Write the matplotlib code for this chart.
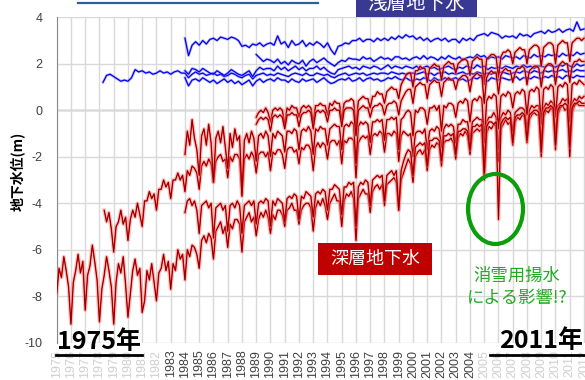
import numpy as np
import matplotlib
matplotlib.use("Agg")
import matplotlib.pyplot as plt
from matplotlib.patches import Ellipse, Rectangle
from matplotlib.lines import Line2D

plt.rcParams['font.family'] = ['Liberation Sans', 'Noto Sans CJK JP', 'DejaVu Sans']
JP = ['Noto Sans CJK JP', 'DejaVu Sans']

# ---- deep wells (bimonthly readings, m) ----
deep1_start = 1975.0
deep1 = [
    -7.9, -6.8, -7.2, -6.3, -6.9, -7.6,
    -9.2, -7.4, -6.9, -6.2, -7.0, -6.5,
    -8.6, -7.1, -6.7, -5.8, -6.5, -7.3,
    -9.1, -7.7, -7.1, -6.3, -6.9, -7.6,
    -9.2, -7.4, -6.6, -7.0, -6.3, -7.5,
    -8.9, -7.9, -6.9, -6.4, -7.1, -6.8,
    -8.7, -8.2, -6.9, -7.3, -6.6, -7.4,
    -8.2, -7.0, -6.8, -6.2, -6.9, -6.5,
    -7.7, -6.6, -6.9, -6.0, -6.4, -6.2,
    -7.3, -6.0, -6.3, -5.8, -5.9, -6.2,
    -6.8, -5.6, -5.4, -5.7, -5.3, -5.5,
    -6.4, -5.2, -5.0, -4.8, -5.3, -5.0,
    -5.9, -4.9, -5.1, -4.7, -4.7, -4.9,
    -6.1, -4.8, -4.6, -4.4, -4.8, -4.6,
    -5.4, -4.7, -4.4, -4.6, -4.3, -4.6,
    -5.3, -4.5, -4.7, -4.3, -4.3, -4.5,
    -5.0, -4.3, -4.2, -4.0, -4.3, -4.3,
    -4.9, -4.3, -4.1, -4.0, -4.0, -4.2,
    -5.2, -4.2, -3.9, -4.1, -3.8, -4.1,
    -4.7, -4.0, -3.8, -3.6, -3.9, -3.9,
    -5.0, -3.9, -3.6, -3.7, -3.5, -3.8,
    -5.6, -3.8, -3.6, -3.4, -3.6, -3.6,
    -4.4, -3.5, -3.3, -3.2, -3.4, -3.2,
    -4.1, -3.2, -3.1, -3.0, -2.9, -3.1,
    -4.3, -3.0, -2.7, -2.4, -2.1, -2.3,
    -3.1, -2.0, -1.8, -1.7, -1.9, -1.7,
    -2.6, -1.7, -1.5, -1.6, -1.4, -1.5,
    -2.4, -1.4, -1.3, -1.3, -1.2, -1.4,
    -2.1, -1.2, -1.0, -1.1, -0.9, -1.1,
    -1.9, -1.0, -0.9, -0.8, -0.9, -0.8,
    -3.0, -1.0, -0.7, -0.8, -0.6, -0.7,
    -2.2, -0.8, -0.6, -0.4, -0.6, -0.5,
    -1.5, -0.5, -0.3, -0.4, -0.2, -0.3,
    -1.4, -0.4, -0.2, -0.1, -0.2, -0.2,
    -2.0, -0.3, 0.0, -0.1, 0.1, 0.0,
    -1.7, -0.2, 0.1, 0.2, 0.0, 0.1,
    -2.0, -0.1, 0.2, 0.3, 0.2, 0.2,
    0.2,
]

deep2_start = 1978 + 2 / 6
deep2 = [
    -4.3, -4.8, -4.4, -5.1,
    -6.1, -5.0, -4.8, -4.3, -4.9, -4.6,
    -5.6, -4.7, -4.3, -4.6, -4.0, -4.5,
    -5.0, -3.9, -3.9, -3.5, -3.8, -3.6,
    -4.3, -3.4, -3.4, -3.0, -3.3, -3.1,
    -3.8, -3.0, -3.0, -2.7, -3.0, -2.8,
    -3.5, -2.6, -2.8, -2.4, -2.5, -2.7,
    -3.4, -2.4, -2.2, -2.4, -2.1, -2.3,
    -3.1, -2.2, -2.0, -1.9, -2.2, -2.1,
    -2.9, -2.0, -2.2, -1.9, -1.9, -2.1,
    -3.6, -2.1, -1.9, -2.1, -1.8, -2.0,
    -2.7, -1.9, -1.8, -1.8, -2.0, -1.8,
    -2.6, -1.8, -1.9, -1.7, -1.7, -1.9,
    -2.5, -1.7, -1.6, -1.6, -1.8, -1.7,
    -2.3, -1.6, -1.7, -1.5, -1.5, -1.7,
    -2.6, -1.6, -1.4, -1.6, -1.4, -1.5,
    -2.1, -1.4, -1.3, -1.3, -1.5, -1.3,
    -2.3, -1.3, -1.4, -1.2, -1.2, -1.3,
    -2.9, -1.4, -1.2, -1.1, -1.2, -1.1,
    -1.9, -1.1, -1.0, -1.1, -0.9, -1.0,
    -1.8, -1.0, -1.0, -1.1, -0.9, -1.0,
    -2.2, -1.1, -0.9, -1.0, -1.1, -1.0,
    -2.0, -1.0, -0.9, -0.9, -1.0, -0.8,
    -1.7, -0.9, -0.8, -0.9, -0.7, -0.8,
    -1.6, -0.8, -0.6, -0.7, -0.6, -0.7,
    -1.4, -0.6, -0.6, -0.4, -0.5, -0.5,
    -1.3, -0.5, -0.4, -0.3, -0.4, -0.4,
    -2.3, -0.5, -0.3, -0.3, -0.1, -0.3,
    -1.7, -0.3, -0.1, -0.2, 0.0, -0.1,
    -0.9, -0.1, 0.0, 0.1, 0.1, 0.0,
    -0.8, 0.0, 0.2, 0.1, 0.2, 0.2,
    -1.5, 0.1, 0.3, 0.2, 0.4, 0.3,
    -1.1, 0.2, 0.3, 0.5, 0.4, 0.5,
    -1.3, 0.3, 0.5, 0.4, 0.6, 0.5,
    0.6,
]

deep3_start = 1984.0
deep3 = [
    -1.9, -0.9, -1.5, -0.4, -1.2, -1.7,
    -2.8, -1.1, -0.8, -1.5, -0.6, -1.4,
    -3.1, -1.2, -0.9, -1.4, -0.7, -1.6,
    -2.5, -1.0, -1.6, -0.8, -1.3, -1.1,
    -3.7, -1.3, -1.0, -1.4, -0.9, -1.2,
    -2.2, -1.1, -1.0, -1.2, -0.9, -1.1,
    -2.0, -1.0, -1.2, -0.9, -1.0, -1.1,
    -1.8, -0.9, -0.9, -1.0, -0.8, -0.9,
    -1.7, -0.9, -0.8, -0.9, -0.7, -0.9,
    -1.9, -0.8, -0.9, -0.7, -0.8, -0.8,
    -1.5, -0.8, -0.7, -0.6, -0.7, -0.7,
    -1.7, -0.7, -0.6, -0.7, -0.5, -0.6,
    -2.3, -0.7, -0.5, -0.6, -0.5, -0.6,
    -1.4, -0.5, -0.5, -0.4, -0.5, -0.4,
    -1.3, -0.4, -0.4, -0.3, -0.4, -0.3,
    -1.7, -0.4, -0.3, -0.1, 0.0, -0.1,
    -1.1, 0.0, -0.1, 0.1, 0.1, 0.0,
    -0.6, 0.1, 0.1, 0.2, 0.0, 0.2,
    -0.9, 0.2, 0.1, 0.3, 0.3, 0.2,
    -0.3, 0.3, 0.4, 0.3, 0.5, 0.4,
    -0.5, 0.4, 0.5, 0.4, 0.6, 0.5,
    -1.4, 0.4, 0.6, 0.5, 0.7, 0.6,
    -0.8, 0.6, 0.7, 0.6, 0.8, 0.7,
    0.1, 0.7, 0.8, 0.7, 0.9, 0.8,
    -0.2, 0.8, 0.9, 0.8, 1.0, 0.9,
    -0.6, 0.9, 1.0, 0.9, 1.1, 1.0,
    -0.3, 1.0, 1.1, 1.0, 1.2, 1.1,
    -0.5, 1.1, 1.2, 1.1, 1.3, 1.2,
    1.1,
]

deep4_start = 1984.0
deep4 = [
    -4.4, -3.9, -3.8, -4.1, -3.9, -4.3,
    -5.3, -4.1, -4.0, -3.9, -4.2, -4.0,
    -5.5, -4.2, -4.1, -4.0, -4.3, -4.1,
    -5.2, -4.1, -4.0, -4.2, -3.9, -4.1,
    -5.3, -4.1, -4.0, -3.9, -4.1, -3.9,
    -4.9, -4.0, -3.9, -4.0, -3.8, -3.9,
    -5.0, -3.9, -4.1, -3.8, -3.9, -4.0,
    -4.8, -3.8, -3.7, -3.8, -3.6, -3.7,
    -4.7, -3.7, -3.8, -3.5, -3.6, -3.7,
    -4.6, -3.6, -3.5, -3.6, -3.4, -3.5,
    -4.3, -3.4, -3.4, -3.2, -3.3, -3.4,
    -4.5, -3.3, -3.3, -3.1, -3.2, -3.1,
    -5.0, -3.3, -3.1, -3.2, -3.0, -3.1,
    -4.1, -3.0, -2.9, -2.8, -2.9, -2.8,
    -3.9, -2.8, -2.7, -2.6, -2.8, -2.6,
    -4.3, -2.6, -2.2, -1.9, -1.7, -1.8,
    -2.8, -1.6, -1.5, -1.4, -1.5, -1.4,
    -2.4, -1.3, -1.3, -1.2, -1.2, -1.3,
    -2.2, -1.1, -1.1, -1.0, -1.1, -1.0,
    -1.9, -0.9, -0.9, -0.8, -0.8, -0.9,
    -1.7, -0.7, -0.7, -0.6, -0.7, -0.6,
    -2.7, -0.7, -0.5, -0.5, -0.6, -0.5,
    -4.7, -0.6, -0.4, -0.3, -0.4, -0.3,
    -1.4, -0.3, -0.2, -0.2, -0.1, -0.2,
    -1.3, -0.2, -0.1, 0.0, 0.0, -0.1,
    -1.8, -0.1, 0.1, 0.1, 0.2, 0.1,
    -1.5, 0.0, 0.2, 0.2, 0.3, 0.2,
    -1.6, 0.1, 0.3, 0.3, 0.4, 0.3,
    0.3,
]

deep5_start = 1989.0
deep5 = [
    -0.3, -0.1, 0.0, -0.1, 0.1, -0.1,
    -0.5, 0.0, 0.1, 0.0, 0.1, 0.0,
    -0.6, 0.1, 0.0, 0.2, 0.1, 0.1,
    -0.3, 0.1, 0.2, 0.1, 0.2, 0.1,
    -0.5, 0.2, 0.2, 0.3, 0.2, 0.2,
    -0.2, 0.3, 0.2, 0.4, 0.3, 0.3,
    -0.4, 0.3, 0.4, 0.4, 0.5, 0.4,
    -0.7, 0.4, 0.5, 0.6, 0.5, 0.5,
    0.1, 0.6, 0.6, 0.8, 0.7, 0.7,
    0.3, 0.8, 0.9, 1.0, 0.9, 0.9,
    0.5, 1.1, 1.3, 1.5, 1.6, 1.6,
    1.0, 1.7, 1.7, 1.9, 1.8, 1.8,
    1.2, 1.8, 1.9, 2.0, 1.9, 1.9,
    1.3, 1.9, 2.0, 2.1, 2.0, 2.0,
    1.6, 2.0, 2.1, 2.2, 2.2, 2.1,
    1.5, 2.1, 2.2, 2.3, 2.2, 2.2,
    1.1, 2.2, 2.3, 2.4, 2.4, 2.3,
    1.4, 2.3, 2.5, 2.5, 2.6, 2.5,
    2.0, 2.5, 2.6, 2.7, 2.6, 2.6,
    2.0, 2.6, 2.7, 2.8, 2.8, 2.7,
    1.9, 2.7, 2.8, 2.9, 2.9, 2.8,
    2.0, 2.8, 2.9, 3.0, 2.9, 2.9,
    2.1, 2.9, 3.0, 3.1, 3.1, 3.0,
    3.1,
]

deep6_start = 1989.0
deep6 = [
    -0.6, -0.4, -0.3, -0.4, -0.3, -0.4,
    -0.9, -0.3, -0.2, -0.3, -0.2, -0.3,
    -0.8, -0.2, -0.2, -0.1, -0.2, -0.2,
    -0.7, -0.2, -0.1, -0.1, 0.0, -0.1,
    -0.8, -0.1, 0.0, -0.1, 0.0, -0.1,
    -0.5, 0.0, 0.0, 0.1, 0.0, 0.0,
    -0.7, 0.0, 0.1, 0.1, 0.1, 0.0,
    -1.1, 0.0, 0.1, 0.2, 0.1, 0.1,
    -0.3, 0.1, 0.2, 0.2, 0.3, 0.2,
    -0.2, 0.2, 0.3, 0.3, 0.4, 0.3,
    -0.2, 0.4, 0.6, 0.8, 0.9, 0.9,
    0.3, 1.0, 1.1, 1.2, 1.1, 1.1,
    0.5, 1.1, 1.2, 1.3, 1.2, 1.2,
    0.6, 1.2, 1.3, 1.4, 1.3, 1.3,
    0.9, 1.3, 1.4, 1.5, 1.5, 1.4,
    0.8, 1.4, 1.5, 1.6, 1.5, 1.5,
    0.3, 1.4, 1.6, 1.7, 1.6, 1.6,
    0.7, 1.5, 1.7, 1.8, 1.7, 1.7,
    1.2, 1.6, 1.8, 1.8, 1.9, 1.8,
    1.1, 1.7, 1.8, 1.9, 1.9, 1.8,
    1.0, 1.7, 1.9, 2.0, 2.0, 1.9,
    1.1, 1.8, 2.0, 2.1, 2.0, 2.0,
    1.2, 1.9, 2.1, 2.1, 2.2, 2.1,
    2.1,
]

# ---- shallow wells (quarterly readings, m) ----
shallow1_start = 1978.25
shallow1 = [
    1.2, 1.5, 1.55,
    1.45, 1.35, 1.25, 1.3,
    1.25, 1.4, 1.75, 1.65,
    1.7, 1.6, 1.65, 1.55,
    1.6, 1.7, 1.6, 1.65,
    1.55, 1.65, 1.7, 1.6,
    1.6, 1.4, 1.55, 1.65,
    1.55, 1.6, 1.5, 1.55,
    1.6, 1.5, 1.55, 1.45,
    1.5, 1.6, 1.55, 1.45,
    1.4, 1.5, 1.55, 1.35,
    1.5, 1.55, 1.6, 1.5,
    1.55, 1.5, 1.6, 1.55,
    1.5, 1.45, 1.55, 1.6,
    1.55, 1.5, 1.6, 1.5,
    1.5, 1.6, 1.55, 1.5,
    1.55, 1.45, 1.4, 1.5,
    1.55, 1.6, 1.5, 1.55,
    1.6, 1.55, 1.6, 1.5,
    1.55, 1.6, 1.55, 1.6,
    1.6, 1.55, 1.65, 1.6,
    1.55, 1.6, 1.55, 1.6,
    1.6, 1.55, 1.6, 1.65,
    1.55, 1.6, 1.5, 1.6,
    1.6, 1.65, 1.55, 1.6,
    1.55, 1.6, 1.65, 1.55,
    1.6, 1.55, 1.65, 1.6,
    1.55, 1.6, 1.55, 1.65,
    1.6, 1.65, 1.6, 1.55,
    1.6, 1.65, 1.6, 1.7,
    1.65, 1.6, 1.7, 1.65,
    1.6, 1.7, 1.65, 1.7,
    1.65, 1.7, 1.75, 1.65,
    1.7, 1.65, 1.75, 1.7,
    1.7,
]

shallow2_start = 1984.0
shallow2 = [
    3.1, 2.35, 2.8, 2.95,
    2.8, 3.0, 2.85, 3.05,
    3.1, 3.0, 3.15, 3.1,
    3.05, 3.15, 3.1, 3.0,
    2.75, 2.8, 2.7, 2.85,
    2.8, 2.9, 2.75, 2.85,
    2.9, 2.8, 3.2, 2.85,
    2.95, 2.7, 3.0, 2.8,
    2.85, 3.0, 2.75, 2.9,
    2.8, 2.95, 2.85, 2.7,
    2.9, 2.6, 2.4, 2.75,
    2.8, 2.9, 2.85, 3.0,
    3.0, 3.1, 2.95, 3.05,
    3.05, 2.95, 3.1, 3.0,
    3.1, 3.0, 3.15, 3.05,
    3.2, 3.1, 3.25, 3.15,
    3.2, 3.05, 3.15, 3.0,
    3.1, 2.95, 3.05, 3.1,
    3.0, 3.1, 2.95, 3.05,
    3.05, 2.9, 3.1, 3.0,
    3.1, 3.0, 3.2, 3.25,
    3.3, 3.2, 3.35, 3.3,
    3.25, 3.1, 3.2, 3.15,
    3.2, 3.1, 3.3, 3.2,
    3.25, 3.15, 3.3, 3.35,
    3.4, 3.3, 3.45, 3.35,
    3.4, 3.5, 3.35, 3.45,
    3.5, 3.4, 3.8, 3.45,
    3.5,
]

shallow3_start = 1984.0
shallow3 = [
    1.7, 1.55, 1.8, 1.75,
    1.65, 1.8, 1.7, 1.6,
    1.55, 1.7, 1.6, 1.5,
    1.6, 1.75, 1.65, 1.55,
    1.5, 1.6, 1.7, 1.45,
    1.7, 1.85, 1.75, 1.8,
    1.8, 1.7, 1.9, 1.75,
    1.85, 1.7, 1.8, 1.9,
    1.75, 1.85, 1.7, 1.8,
    1.8, 1.9, 1.75, 1.85,
    1.7, 1.6, 1.55, 1.75,
    1.8, 1.85, 1.9, 1.8,
    1.85, 1.75, 1.9, 1.85,
    1.8, 1.9, 1.85, 1.75,
    1.85, 1.95, 1.8, 1.9,
    1.85, 1.8, 1.9, 1.85,
    1.8, 1.9, 1.75, 1.85,
    1.9, 1.8, 1.85, 1.75,
    1.8, 1.85, 1.9, 1.8,
    1.75, 1.85, 1.8, 1.9,
    1.85, 1.8, 1.95, 1.85,
    1.9, 1.75, 1.85, 1.8,
    1.85, 1.8, 1.9, 1.85,
    1.8, 1.9, 1.85, 1.95,
    1.85, 1.9, 1.8, 1.9,
    1.9, 1.85, 1.95, 1.9,
    1.85, 1.95, 1.9, 2.0,
    1.9, 1.85, 2.0, 1.9,
    1.95,
]

shallow4_start = 1984.0
shallow4 = [
    1.4, 1.05, 1.3, 1.35,
    1.25, 1.4, 1.3, 1.2,
    1.3, 1.15, 1.25, 1.35,
    1.2, 1.3, 1.15, 1.25,
    1.1, 1.2, 1.3, 1.05,
    1.25, 1.35, 1.2, 1.3,
    1.35, 1.25, 1.4, 1.3,
    1.3, 1.2, 1.35, 1.25,
    1.2, 1.35, 1.25, 1.3,
    1.35, 1.2, 1.3, 1.4,
    1.25, 1.15, 1.2, 1.3,
    1.35, 1.3, 1.4, 1.25,
    1.3, 1.4, 1.25, 1.35,
    1.4, 1.3, 1.35, 1.25,
    1.3, 1.4, 1.35, 1.45,
    1.35, 1.3, 1.4, 1.3,
    1.25, 1.35, 1.3, 1.4,
    1.35, 1.25, 1.4, 1.3,
    1.3, 1.4, 1.3, 1.35,
    1.4, 1.3, 1.35, 1.25,
    1.3, 1.4, 1.35, 1.45,
    1.3, 1.25, 1.4, 1.35,
    1.3, 1.4, 1.35, 1.3,
    1.35, 1.45, 1.3, 1.4,
    1.4, 1.35, 1.45, 1.4,
    1.35, 1.45, 1.4, 1.5,
    1.4, 1.45, 1.35, 1.5,
    1.45, 1.4, 1.5, 1.45,
    1.45,
]

shallow5_start = 1989.0
shallow5 = [
    2.4, 2.25, 2.1, 2.2,
    2.15, 2.05, 2.2, 2.0,
    2.1, 1.95, 2.15, 2.05,
    2.0, 2.15, 1.9, 2.1,
    2.2, 2.05, 2.15, 2.25,
    2.1, 2.0, 1.9, 2.05,
    2.15, 2.1, 2.25, 2.2,
    2.2, 2.15, 2.3, 2.2,
    2.25, 2.1, 2.2, 2.3,
    2.2, 2.25, 2.15, 2.3,
    2.3, 2.2, 2.25, 2.15,
    2.25, 2.3, 2.2, 2.35,
    2.2, 2.3, 2.25, 2.15,
    2.3, 2.2, 2.35, 2.25,
    2.2, 2.3, 2.15, 2.25,
    2.3, 2.25, 2.4, 2.3,
    2.35, 2.2, 2.3, 2.25,
    2.3, 2.2, 2.35, 2.3,
    2.25, 2.3, 2.2, 2.35,
    2.3, 2.25, 2.4, 2.3,
    2.35, 2.3, 2.4, 2.35,
    2.4, 2.3, 2.45, 2.35,
    2.4, 2.35, 2.5, 2.4,
    2.45,
]

year_ticks = list(range(1975, 2013))
y_ticks = [-10, -8, -6, -4, -2, 0, 2, 4]

deep = [(deep1_start, deep1), (deep2_start, deep2), (deep3_start, deep3),
        (deep4_start, deep4), (deep5_start, deep5), (deep6_start, deep6)]
shallow = [(shallow1_start, shallow1), (shallow2_start, shallow2),
           (shallow3_start, shallow3), (shallow4_start, shallow4),
           (shallow5_start, shallow5)]


def time_axis(start, vals, per_year):
    return start + np.arange(len(vals)) / per_year


W, H = 585, 380


def fx(px):
    return px / W


def fy(py):
    return 1 - py / H


fig = plt.figure(figsize=(5.85, 3.8), dpi=100)
ax = fig.add_axes([fx(56.7), fy(342.7), 1 - fx(56.7), (342.7 - 17.3) / H])

for start, vals in shallow:
    x = time_axis(start, vals, 4)
    ax.plot(x, vals, color='#7f7fff', lw=2.0, alpha=0.5, zorder=3)
    ax.plot(x, vals, color='#0000ee', lw=0.9, zorder=3)

for start, vals in deep:
    x = time_axis(start, vals, 6)
    ax.plot(x, vals, color='#f08080', lw=2.8, alpha=0.45, zorder=4)
    ax.plot(x, vals, color='#e00000', lw=1.0, zorder=4)
    ax.plot(x, vals, color='#2a0000', lw=0.35, alpha=0.7, zorder=4)

ax.set_xlim(1975, 2012.07)
ax.set_ylim(-10, 4)
ax.set_xticks(year_ticks)
ax.set_xticklabels([str(y) for y in year_ticks], rotation=90, fontsize=9)
for lab, y in zip(ax.get_xticklabels(), year_ticks):
    lab.set_color('#404040' if 1983 <= y <= 2004 else '#cfcfcf')
ax.set_yticks(y_ticks)
ax.set_yticklabels([str(v) for v in y_ticks], fontsize=9, color='#404040')
ax.tick_params(axis='both', length=0)
ax.tick_params(axis='y', pad=10)
ax.tick_params(axis='x', pad=5)
ax.grid(color='#d9d9d9', lw=1.0, zorder=0)
ax.axhline(0, color='#8a8a8a', lw=1.0, zorder=1)
for side in ['top', 'right', 'bottom']:
    ax.spines[side].set_visible(False)
ax.spines['left'].set_color('#8a8a8a')

fig.text(fx(17), fy(171), '地下水位(m)', rotation=90, fontsize=10,
         fontweight='bold', family=JP, ha='center', va='center')

# heading at the very top, mostly outside the canvas
fig.text(fx(198), fy(1.5), '地下水位の経年変化', fontsize=16, family=JP,
         color='#2f5f98', ha='center', va='bottom')
fig.add_artist(Line2D([fx(78), fx(318)], [fy(2.7), fy(2.7)], color='#2f5f98', lw=1.6))

# labels for the two aquifers
fig.add_artist(Rectangle((fx(356), fy(17)), fx(121), 30 / H, color='#393994', lw=0))
fig.text(fx(416.5), fy(3), '浅層地下水', fontsize=14, family=JP, color='white',
         ha='center', va='center')
fig.add_artist(Rectangle((fx(318), fy(275)), fx(114), 32 / H, color='#c00000', lw=0))
fig.text(fx(375), fy(259), '深層地下水', fontsize=13, family=JP, color='white',
         ha='center', va='center')

# snow-melting pumping note
fig.add_artist(Ellipse((fx(495.5), fy(209)), fx(55), 70 / H, fill=False,
                       edgecolor='#0a9e0a', lw=3.0))
fig.text(fx(517), fy(287), '消雪用揚水\nによる影響!?', fontsize=12.5, family=JP,
         color='#22aa22', ha='center', va='center', linespacing=1.3)

# period labels
fig.text(fx(57), fy(342), '1975年', fontsize=18, fontweight='bold', family=JP,
         ha='left', va='center')
fig.add_artist(Line2D([fx(56), fx(142)], [fy(354.5), fy(354.5)], color='black', lw=2))
fig.text(fx(583), fy(341), '2011年', fontsize=18, fontweight='bold', family=JP,
         ha='right', va='center')
fig.add_artist(Line2D([fx(490), fx(585)], [fy(355), fy(355)], color='black', lw=2))

fig.savefig('out.png', dpi=100, facecolor='white')
